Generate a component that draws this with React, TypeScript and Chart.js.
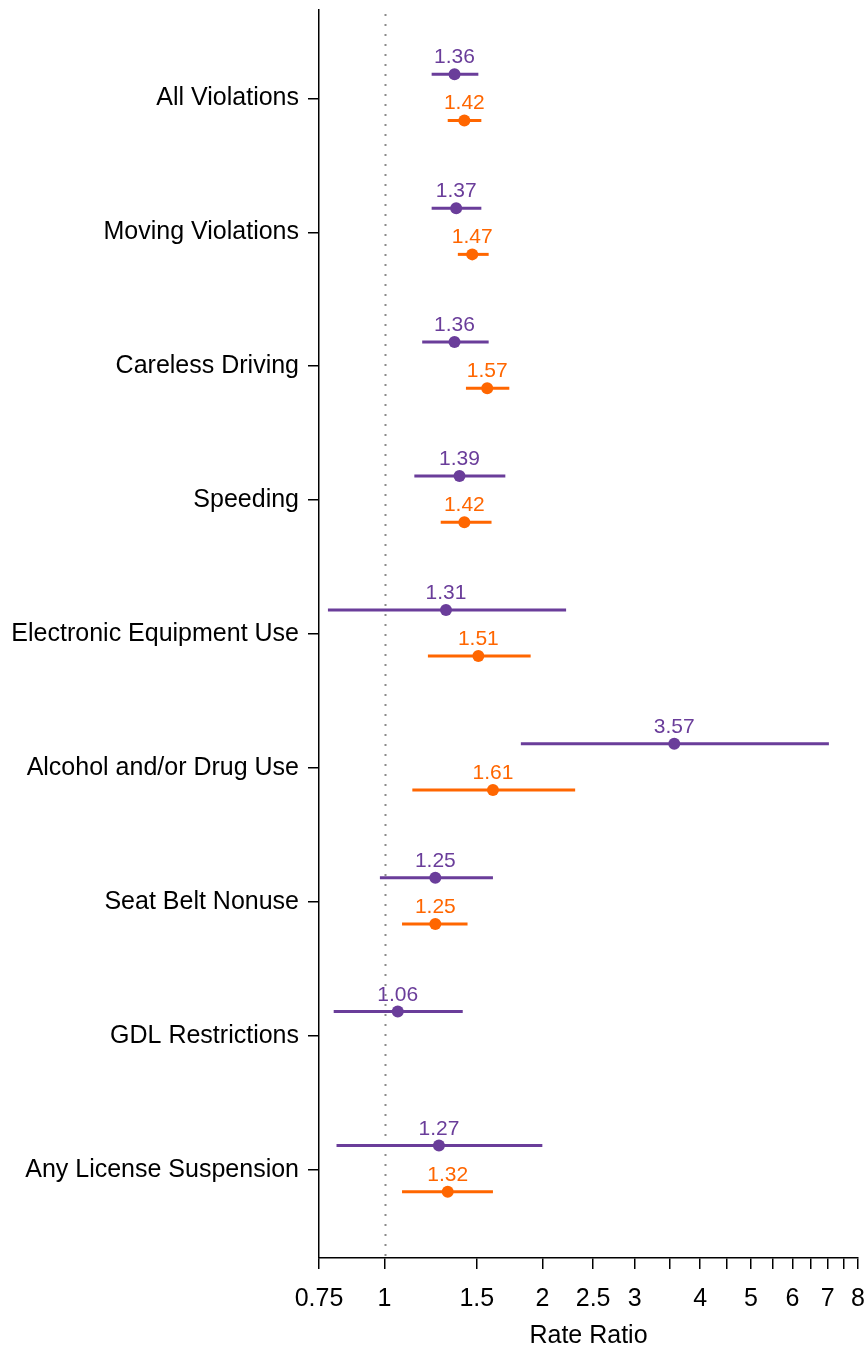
import React, { useEffect, useRef } from 'react';
import { Chart, registerables } from 'chart.js';
Chart.register(...registerables);

const categories = [
  'All Violations',
  'Moving Violations',
  'Careless Driving',
  'Speeding',
  'Electronic Equipment Use',
  'Alcohol and/or Drug Use',
  'Seat Belt Nonuse',
  'GDL Restrictions',
  'Any License Suspension',
];
const purpleEst: (number | null)[] = [1.36, 1.37, 1.36, 1.39, 1.31, 3.57, 1.25, 1.06, 1.27];
const purpleLo: (number | null)[] = [1.23, 1.23, 1.18, 1.14, 0.78, 1.82, 0.98, 0.8, 0.81];
const purpleHi: (number | null)[] = [1.51, 1.53, 1.58, 1.7, 2.22, 7.04, 1.61, 1.41, 2.0];
const orangeEst: (number | null)[] = [1.42, 1.47, 1.57, 1.42, 1.51, 1.61, 1.25, null, 1.32];
const orangeLo: (number | null)[] = [1.32, 1.38, 1.43, 1.28, 1.21, 1.13, 1.08, null, 1.08];
const orangeHi: (number | null)[] = [1.53, 1.58, 1.73, 1.6, 1.9, 2.31, 1.44, null, 1.61];
const xTickValues = [0.75, 1, 1.5, 2, 2.5, 3, 3.5, 4, 4.5, 5, 5.5, 6, 6.5, 7, 7.5, 8];
const xTickLabels = [0.75, 1, 1.5, 2, 2.5, 3, 4, 5, 6, 7, 8];

const PURPLE = '#6a3d9a';
const ORANGE = '#ff6600';
const FONT = "'Liberation Sans', Arial, sans-serif";
const PURPLE_OFF = -0.18;
const ORANGE_OFF = 0.165;

type Series = { est: (number | null)[]; lo: (number | null)[]; hi: (number | null)[]; color: string; off: number };
const series: Series[] = [
  { est: purpleEst, lo: purpleLo, hi: purpleHi, color: PURPLE, off: PURPLE_OFF },
  { est: orangeEst, lo: orangeLo, hi: orangeHi, color: ORANGE, off: ORANGE_OFF },
];

const forestPlugin = {
  id: 'forest',
  beforeDatasetsDraw(chart: any) {
    const { ctx, chartArea, scales } = chart;
    const x = scales.x;
    const y = scales.y;
    ctx.save();
    const rx = Math.round(x.getPixelForValue(1)) + 0.5;
    ctx.strokeStyle = '#8a8a8a';
    ctx.lineWidth = 2;
    ctx.setLineDash([2, 8]);
    ctx.beginPath();
    ctx.moveTo(rx, chartArea.top + 4);
    ctx.lineTo(rx, chartArea.bottom);
    ctx.stroke();
    ctx.setLineDash([]);
    series.forEach((s) => {
      ctx.strokeStyle = s.color;
      ctx.lineWidth = 3;
      s.est.forEach((v, i) => {
        if (v == null || s.lo[i] == null || s.hi[i] == null) return;
        const py = y.getPixelForValue(i + s.off);
        ctx.beginPath();
        ctx.moveTo(x.getPixelForValue(s.lo[i]), py);
        ctx.lineTo(x.getPixelForValue(s.hi[i]), py);
        ctx.stroke();
      });
    });
    ctx.restore();
  },
  afterDatasetsDraw(chart: any) {
    const { ctx, scales } = chart;
    const x = scales.x;
    const y = scales.y;
    ctx.save();
    ctx.font = `21px ${FONT}`;
    ctx.textAlign = 'center';
    ctx.textBaseline = 'alphabetic';
    series.forEach((s) => {
      ctx.fillStyle = s.color;
      s.est.forEach((v, i) => {
        if (v == null) return;
        const px = x.getPixelForValue(v);
        const py = y.getPixelForValue(i + s.off);
        ctx.fillText(v.toFixed(2), px, py - 11);
      });
    });
    ctx.restore();
  },
};

export default function App() {
  const ref = useRef<HTMLCanvasElement | null>(null);
  useEffect(() => {
    if (!ref.current) return;
    const mk = (s: Series) =>
      s.est
        .map((v, i) => (v == null ? null : { x: v, y: i + s.off }))
        .filter((p) => p !== null);
    const chart = new Chart(ref.current, {
      type: 'scatter',
      data: {
        datasets: [
          { data: mk(series[0]) as any, backgroundColor: PURPLE, borderColor: PURPLE, pointRadius: 6, pointBorderWidth: 0 },
          { data: mk(series[1]) as any, backgroundColor: ORANGE, borderColor: ORANGE, pointRadius: 6, pointBorderWidth: 0 },
        ],
      },
      options: {
        animation: false,
        responsive: true,
        maintainAspectRatio: false,
        layout: { padding: { top: 10, right: 9, left: 0, bottom: 0 } },
        plugins: { legend: { display: false }, tooltip: { enabled: false } },
        scales: {
          x: {
            type: 'logarithmic',
            min: 0.75,
            max: 8,
            afterBuildTicks: (scale: any) => {
              scale.ticks = xTickValues.map((v) => ({ value: v }));
            },
            afterFit: (scale: any) => {
              scale.height = 93;
              scale.paddingLeft = 0;
              scale.paddingRight = 0;
            },
            ticks: {
              autoSkip: false,
              maxRotation: 0,
              padding: 15,
              color: '#000',
              font: { family: FONT, size: 25 },
              callback: (v: any) => (xTickLabels.includes(Number(v)) ? String(v) : ''),
            },
            grid: { display: true, drawOnChartArea: false, drawTicks: true, tickLength: 11, color: '#000', lineWidth: 1.5 },
            border: { display: true, color: '#000', width: 1.5 },
            title: { display: true, text: 'Rate Ratio', color: '#000', font: { family: FONT, size: 25 }, padding: { top: 10, bottom: 0 } },
          },
          y: {
            type: 'linear',
            reverse: true,
            min: -0.66,
            max: 8.66,
            afterBuildTicks: (scale: any) => {
              scale.ticks = categories.map((_, i) => ({ value: i }));
            },
            afterFit: (scale: any) => {
              scale.width = 319;
              scale.paddingTop = 0;
              scale.paddingBottom = 0;
            },
            ticks: {
              autoSkip: false,
              padding: 9,
              color: '#000',
              font: { family: FONT, size: 25 },
              callback: (v: any) => categories[Number(v)] ?? '',
            },
            grid: { display: true, drawOnChartArea: false, drawTicks: true, tickLength: 11, color: '#000', lineWidth: 1.5 },
            border: { display: true, color: '#000', width: 1.5 },
          },
        },
      },
      plugins: [forestPlugin],
    });
    return () => chart.destroy();
  }, []);
  return (
    <div style={{ position: 'absolute', left: 0, top: 0, width: 867, height: 1351 }}>
      <canvas ref={ref} />
    </div>
  );
}
